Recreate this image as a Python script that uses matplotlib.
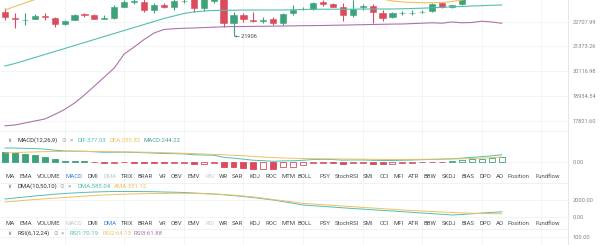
import matplotlib
matplotlib.use('Agg')
import matplotlib.pyplot as plt
from matplotlib.ticker import NullLocator, FixedLocator, FixedFormatter
import numpy as np

# ---------------- data ----------------
opens = [23270, 22932, 22786, 22859, 23043, 22898, 22563, 22803, 23123, 23083,
         22876, 22898, 23558, 23831, 23848, 23368, 23674, 23558, 23872, 24066,
         23466, 23889, 24423, 22652, 23083, 22803, 22764, 22859, 22652, 23180,
         23397, 23408, 23848, 23714, 23558, 23083, 23523, 23599, 23214, 22953,
         23197, 23197, 23253, 23328, 23755, 23523, 23714, 24007, 24243, 24125, 24423]
highs = [23483, 23197, 23197, 23140, 23214, 22988, 22803, 23140, 23214, 23140,
         23083, 23656, 23948, 24007, 24007, 23755, 23755, 24007, 24066, 24125,
         24184, 24423, 24542, 23253, 23214, 23270, 22988, 22988, 23180, 23656,
         23541, 23831, 23948, 23744, 23755, 23948, 23714, 23714, 23368, 23270,
         23328, 23368, 23368, 23790, 23802, 23684, 24066, 24303, 24363, 24482, 24663]
lows = [22803, 22360, 22525, 22842, 22803, 22431, 22525, 22775, 22988, 22831,
        22842, 22842, 23523, 23714, 23270, 23180, 23466, 23368, 23790, 23270,
        23311, 23790, 22431, 21906, 22708, 22708, 22619, 22525, 22525, 23083,
        23368, 23368, 23599, 23541, 22764, 22988, 23368, 22619, 22764, 22898,
        23083, 23083, 23180, 23270, 23500, 23500, 23656, 24000, 24066, 24100, 24380]
closes = [22953, 22842, 22820, 23043, 22953, 22563, 22764, 23083, 23083, 22859,
          22915, 23558, 23813, 23872, 23368, 23656, 23558, 23889, 23907, 23466,
          24125, 24243, 22652, 23083, 22842, 22747, 22820, 22652, 23140, 23368,
          23426, 23790, 23714, 23558, 23083, 23408, 23599, 23270, 22898, 23180,
          23225, 23225, 23282, 23714, 23523, 23656, 24007, 24243, 24125, 24423, 24602]

ma_yellow = [23369, 23570, 23773, 23977, 24125, 24243, 24303, 24363, 24392, 24422,
             24482, 24542, 24663, 24784, 24906, 25028, 25089, 25150, 25213, 25274,
             25274, 25213, 25089, 24906, 24723, 24602, 24542, 24482, 24422, 24363,
             24303, 24303, 24303, 24273, 24243, 24184, 24154, 24095, 24007, 23890,
             23831, 23802, 23790, 23790, 23802, 23860, 23948, 24066, 24184, 24303, 24422]
ma_teal = [20372, 20497, 20648, 20800, 20954, 21108, 21264, 21421, 21580, 21739,
           21900, 22061, 22225, 22388, 22553, 22719, 22887, 23027, 23169, 23254,
           23311, 23340, 23352, 23357, 23363, 23369, 23369, 23369, 23369, 23380,
           23397, 23409, 23414, 23414, 23414, 23414, 23426, 23426, 23426, 23426,
           23437, 23455, 23472, 23495, 23524, 23553, 23569, 23599, 23617, 23641, 23657]
ma_purple = [17594, 17629, 17716, 17803, 17890, 18089, 18312, 18605, 18974, 19397,
             19829, 20272, 20979, 21342, 21738, 22087, 22279, 22322, 22345, 22360,
             22383, 22404, 22427, 22438, 22443, 22449, 22454, 22460, 22471, 22476,
             22487, 22493, 22498, 22509, 22520, 22531, 22542, 22553, 22564, 22575,
             22581, 22603, 22625, 22647, 22625, 22692, 22647, 22664, 22736, 22692, 22620]
price_ticks = [22707.99, 21373.26, 20116.98, 18934.54, 17821.60]
min_low_label = 21906

macd_hist = [540, 486, 416, 362, 270, 146, 54, 32, 16, -27,
             -70, -54, -38, -43, -54, -70, -81, -70, -59, -124,
             -108, -92, -270, -308, -362, -416, -394, -416, -308, -270,
             -189, -92, -54, -65, -124, -92, -81, -108, -124, -108,
             -81, -70, -38, -27, -5, 27, 70, 124, 162, 189, 244.22]
macd_dea = [470, 491, 513, 529, 545, 551, 556, 556, 556, 551,
            545, 540, 535, 524, 513, 502, 486, 470, 454, 437,
            416, 394, 373, 346, 319, 286, 254, 227, 200, 184,
            173, 162, 157, 151, 146, 140, 135, 130, 124, 119,
            119, 124, 130, 135, 140, 146, 157, 173, 194, 221, 255.82]
macd_dif = [740, 734, 721, 710, 680, 624, 583, 572, 564, 537,
            510, 513, 516, 502, 486, 467, 445, 435, 424, 375,
            362, 348, 238, 192, 138, 78, 57, 19, 46, 49,
            78, 116, 130, 118, 84, 94, 94, 76, 62, 65,
            78, 89, 111, 121, 137, 160, 192, 235, 275, 316, 377.03]

dma_line = [2124, 2244, 2364, 2484, 2592, 2700, 2784, 2856, 2916, 2964,
            3000, 3024, 3024, 3024, 3012, 3000, 2964, 2940, 2904, 2844,
            2784, 2724, 2628, 2532, 2424, 2292, 2148, 2004, 1812, 1608,
            1404, 1320, 1236, 1152, 1068, 984, 912, 828, 756, 684,
            600, 516, 444, 360, 288, 204, 264, 348, 444, 516, 585.04]
ama_line = [1764, 1860, 1968, 2064, 2148, 2232, 2304, 2388, 2472, 2544,
            2604, 2652, 2700, 2736, 2760, 2784, 2796, 2808, 2808, 2784,
            2760, 2724, 2664, 2580, 2484, 2364, 2220, 2064, 1908, 1764,
            1608, 1524, 1440, 1356, 1284, 1200, 1116, 1044, 960, 888,
            804, 744, 684, 624, 564, 504, 456, 420, 384, 360, 351.12]
dma_ticks = [2000, 0]
rsi_last = [70.19, 64.13, 61.88]
rsi_ticks = [100]

tabs = ["MA", "EMA", "VOLUME", "MACD", "DMI", "DMA", "TRIX", "BRAR", "VR", "OBV",
        "EMV", "RSI", "WR", "SAR", "KDJ", "ROC", "MTM", "BOLL", "PSY", "StochRSI",
        "SMI", "CCI", "MFI", "ATR", "BBW", "SKDJ", "BIAS", "DPO", "AO", "Position", "Fundflow"]
tab_x = [6, 20, 37, 65, 87, 103, 121, 138, 159, 171, 188, 205, 219, 232, 249, 265, 281,
         297, 319, 335, 363, 380, 393, 408, 424, 442, 461, 479, 496, 508, 535]

# ---------------- style ----------------
UP = '#3ba27a'
DOWN = '#db4b5c'
TEAL = '#52bfb0'
YEL = '#eec05e'
PURP = '#ad72ad'
LBL = '#7d838c'
GRID = '#f1f2f4'
FONT = ['Roboto', 'DejaVu Sans']

W, H = 600, 245
RIGHT = 568
fig = plt.figure(figsize=(6, 2.45), dpi=100)
fig.patch.set_facecolor('white')

n = len(opens)
idx = np.arange(n)
STEP = 9.935
X0 = 5
xlim = ((0 - X0) / STEP, (RIGHT - X0) / STEP)


def add_ax(top, bottom):
    ax = fig.add_axes([0, 1 - bottom / H, RIGHT / W, (bottom - top) / H])
    ax.set_xlim(*xlim)
    for s in ax.spines.values():
        s.set_visible(False)
    ax.set_xticks([])
    ax.yaxis.tick_right()
    ax.tick_params(axis='y', length=0, pad=3.5, labelsize=4.1, labelcolor=LBL)
    for t in ax.get_yticklabels():
        t.set_fontfamily(FONT)
    ax.set_facecolor('none')
    for g in range(6, n + 6, 6):
        ax.axvline(g, color=GRID, lw=0.6, zorder=0)
    return ax


def set_ticks(ax, vals):
    ax.yaxis.set_major_locator(FixedLocator(vals))
    ax.yaxis.set_minor_locator(NullLocator())
    ax.yaxis.set_major_formatter(FixedFormatter(['%.2f' % v for v in vals]))
    for t in ax.get_yticklabels():
        t.set_fontfamily(FONT)
    for v in vals:
        ax.axhline(v, color=GRID, lw=0.6, zorder=0)


def ftext(x, y, s, color='#333333', size=4.3, **kw):
    fig.text(x / W, 1 - y / H, s, color=color, fontsize=size, va='center',
             ha='left', family=FONT, **kw)


# ---------------- main pane ----------------
ax = add_ax(0, 131)
ax.set_yscale('log')
ax.set_ylim(17372, 23948)
set_ticks(ax, price_ticks)
o = np.array(opens); c = np.array(closes); hi = np.array(highs); lo = np.array(lows)
up = c >= o
cols = np.where(up, UP, DOWN)
ax.vlines(idx, lo, hi, colors=cols, lw=0.8, zorder=3)
ax.bar(idx, np.abs(c - o), bottom=np.minimum(o, c), width=0.62, color=cols,
       edgecolor=cols, lw=0.4, zorder=4)
ax.plot(idx, ma_yellow, color=YEL, lw=0.8, zorder=5)
ax.plot(idx, ma_teal, color=TEAL, lw=0.8, zorder=5)
ax.plot(idx, ma_purple, color=PURP, lw=0.8, zorder=5)
imin = int(np.argmin(lo))
ax.text(imin + 0.15, min_low_label, '\u2190 %d' % min_low_label, fontsize=4.1,
        color='#444444', va='center', ha='left', family=FONT)
ax.set_xlim(*xlim)

# ---------------- MACD pane ----------------
ax2 = add_ax(131, 183)
ax2.set_ylim(-1150, 1658)
set_ticks(ax2, [0])
hist = np.array(macd_hist)
prev = np.concatenate([[np.inf], hist[:-1]])
for i, v in enumerate(hist):
    col = UP if v >= 0 else DOWN
    filled = v < prev[i]
    ax2.bar(i, v, width=0.6, color=col if filled else 'white', edgecolor=col,
            lw=0.6, zorder=3)
ax2.plot(idx, macd_dif, color=TEAL, lw=0.7, zorder=4)
ax2.plot(idx, macd_dea, color=YEL, lw=0.7, zorder=4)
ax2.set_xlim(*xlim)

# ---------------- DMA pane ----------------
ax3 = add_ax(183, 229)
ax3.set_ylim(-1476, 4044)
set_ticks(ax3, dma_ticks)
ax3.plot(idx, dma_line, color=TEAL, lw=0.7, zorder=4)
ax3.plot(idx, ama_line, color=YEL, lw=0.7, zorder=4)
ax3.set_xlim(*xlim)

# ---------------- RSI pane ----------------
ax4 = add_ax(229, 245)
ax4.set_ylim(100 - 7.7 / 0.6, 100 + 8.3 / 0.6)
set_ticks(ax4, rsi_ticks)
ax4.set_xlim(*xlim)

# separators
fig.add_artist(plt.Line2D([RIGHT / W, RIGHT / W], [0, 1], color='#e4e6e9', lw=0.7))
for yy in (131, 183, 229):
    fig.add_artist(plt.Line2D([0, RIGHT / W], [1 - yy / H] * 2, color='#eeeff1', lw=0.6))

# ---------------- headers ----------------
def header(y, name, name_end, parts):
    ftext(7, y, '\u2228', color='#555555', size=4.0)
    ftext(17, y, name, color='#333333')
    ftext(name_end + 5, y, '\u2299', color='#9a9a9a', size=4.0)
    ftext(name_end + 13, y, '\u00d7', color='#9a9a9a', size=4.6)
    for x, s, col in parts:
        ftext(x, y, s, color=col)


header(140, 'MACD(12,26,9)', 57,
       [(78, 'DIF:%.2f' % macd_dif[-1], TEAL),
        (110, 'DEA:%.2f' % macd_dea[-1], YEL),
        (144, 'MACD:%.2f' % macd_hist[-1], '#4f9e98')])
header(186, 'DMA(10,50,10)', 55,
       [(78, 'DMA:%.2f' % dma_line[-1], TEAL),
        (114, 'AMA:%.2f' % ama_line[-1], YEL)])
header(233, 'RSI(6,12,24)', 48,
       [(70, 'RSI1:%.2f' % rsi_last[0], TEAL),
        (102, 'RSI2:%.2f' % rsi_last[1], YEL),
        (133, 'RSI3:%.2f' % rsi_last[2], PURP)])


def tab_row(y, active, disabled):
    for name, x in zip(tabs, tab_x):
        if name == active:
            col = '#3f7fd6'
        elif name in disabled:
            col = '#c4c7cc'
        else:
            col = '#4a4d52'
        ftext(x, y, name, color=col, size=4.3)


tab_row(177, 'MACD', ['DMA', 'RSI'])
tab_row(223.5, 'DMA', ['MACD', 'RSI'])

fig.savefig('out.png', dpi=100, facecolor='white')
